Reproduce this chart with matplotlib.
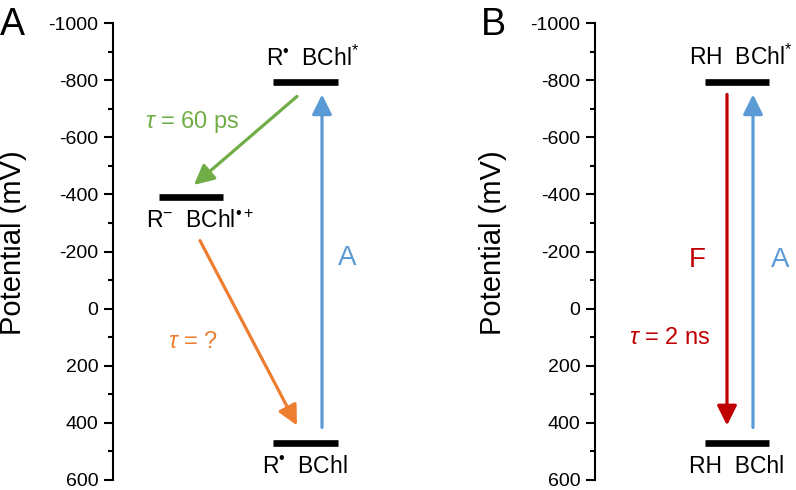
import matplotlib
matplotlib.use("Agg")
import matplotlib.pyplot as plt

# energy levels (mV)
levels_a = [-795, -390, 470]
labels_a = [r"R$^{\mathrm{•}}$  BChl$^{*}$", r"R$^{-}$  BChl$^{\mathrm{•+}}$", r"R$^{\mathrm{•}}$  BChl"]
levels_b = [-795, 470]
labels_b = [r"RH  BChl$^{*}$", r"RH  BChl"]

# transitions (start mV, end mV)
absorb_a = (416, -750)
transfer_a = (-743, -433)
recomb_a = (-238, 409)
fluor_b = (-750, 409)
absorb_b = (416, -750)

yticks = [-1000, -800, -600, -400, -200, 0, 200, 400, 600]

GREEN = "#70AD47"
ORANGE = "#ED7D31"
BLUE = "#5B9BD5"
RED = "#C00000"

plt.rcParams["font.family"] = "Liberation Sans"
plt.rcParams["mathtext.fontset"] = "custom"
plt.rcParams["mathtext.rm"] = "Liberation Sans"
plt.rcParams["mathtext.it"] = "Liberation Sans:italic"
plt.rcParams["mathtext.bf"] = "Liberation Sans:bold"

fig = plt.figure(figsize=(7.96, 4.9), dpi=100)
ax_a = fig.add_axes([113 / 796, 10 / 490, 270 / 796, 457 / 490])
ax_b = fig.add_axes([595 / 796, 10 / 490, 195 / 796, 457 / 490])


def style_axis(ax, width, label_x):
    ax.set_ylim(600, -1000)
    ax.set_xlim(0, width)
    ax.set_yticks(yticks)
    ax.set_yticks(range(-900, 600, 200), minor=True)
    ax.set_yticklabels([str(t) for t in yticks])
    for s in ["top", "right", "bottom"]:
        ax.spines[s].set_visible(False)
    ax.spines["left"].set_linewidth(1.5)
    ax.set_xticks([])
    ax.tick_params(axis="y", which="major", length=6.5, width=1.5, labelsize=14, pad=4)
    ax.tick_params(axis="y", which="minor", length=3.5, width=1.5)
    ax.set_ylabel("Potential (mV)", fontsize=21)
    ax.yaxis.set_label_coords(label_x, 0.52)
    ax.patch.set_alpha(0)


def arrow(ax, x0, y0, x1, y1, color):
    ax.annotate("", xy=(x1, y1), xytext=(x0, y0), annotation_clip=False,
                arrowprops=dict(arrowstyle="-|>,head_length=0.6,head_width=0.3",
                                mutation_scale=20, lw=2.3, color=color,
                                shrinkA=0, shrinkB=0))


style_axis(ax_a, 270, -0.318)
style_axis(ax_b, 195, -0.451)

# panel A
bar_x_a = [(160, 225), (46, 110), (160, 225)]
lab_pos_a = [(200, -878), (87, -305), (192, 553)]
for lev, (x0, x1), lab, (tx, ty) in zip(levels_a, bar_x_a, labels_a, lab_pos_a):
    ax_a.hlines(lev, x0, x1, colors="black", lw=4.8, capstyle="butt")
    ax_a.text(tx, ty, lab, fontsize=16.5, ha="center", va="center", clip_on=False)

arrow(ax_a, 209, absorb_a[0], 209, absorb_a[1], BLUE)
arrow(ax_a, 184, transfer_a[0], 81, transfer_a[1], GREEN)
arrow(ax_a, 87, recomb_a[0], 184, recomb_a[1], ORANGE)
ax_a.text(234, -176, "A", color=BLUE, fontsize=20, ha="center", va="center")
ax_a.text(79, -652, r"$\tau$ = 60 ps", color=GREEN, fontsize=17, ha="center", va="center")
ax_a.text(80, 118, r"$\tau$ = ?", color=ORANGE, fontsize=17, ha="center", va="center")

# panel B
lab_pos_b = [(146, -880), (142, 553)]
for lev, lab, (tx, ty) in zip(levels_b, labels_b, lab_pos_b):
    ax_b.hlines(lev, 110, 174, colors="black", lw=4.8, capstyle="butt")
    ax_b.text(tx, ty, lab, fontsize=16.5, ha="center", va="center", clip_on=False)

arrow(ax_b, 132, fluor_b[0], 132, fluor_b[1], RED)
arrow(ax_b, 158, absorb_b[0], 158, absorb_b[1], BLUE)
ax_b.text(102, -169, "F", color=RED, fontsize=20, ha="center", va="center")
ax_b.text(185, -169, "A", color=BLUE, fontsize=20, ha="center", va="center")
ax_b.text(75, 103, r"$\tau$ = 2 ns", color=RED, fontsize=17, ha="center", va="center")

fig.text(0 / 796, 1 - 35 / 490, "A", fontsize=27, ha="left", va="baseline")
fig.text(481 / 796, 1 - 35 / 490, "B", fontsize=27, ha="left", va="baseline")

fig.savefig("out.png", dpi=100)
